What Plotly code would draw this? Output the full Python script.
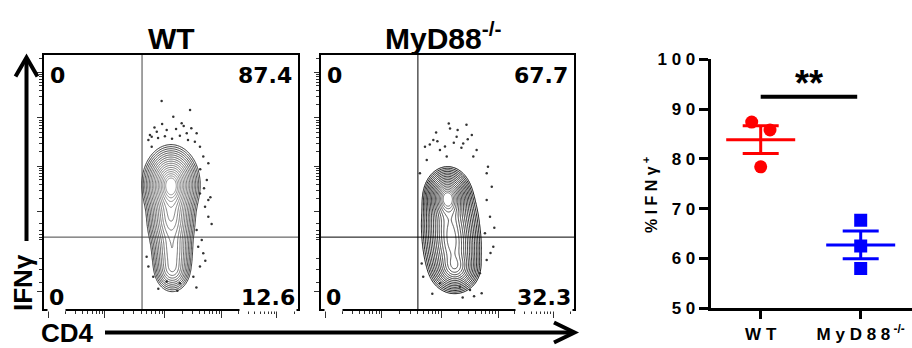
import numpy as np
import plotly.graph_objects as go

W, H = 912, 348

# ---------------- data ----------------
groups = ["WT", "MyD88"]
wt_values = [87.4, 85.8, 78.4]
ko_values = [67.7, 62.5, 58.0]
wt_jitter = [-0.09, 0.093, 0.0]
ko_jitter = [0.0, 0.0, 0.0]
sig_label = "**"
sig_level = 92.5
y_ticks = [50, 60, 70, 80, 90, 100]
y_tick_text = ["5 0", "6 0", "7 0", "8 0", "9 0", "1 0 0"]
x_tick_text = ["W T", "M y D 8 8<sup> -/-</sup>"]

quad_wt = ["0", "87.4", "0", "12.6"]   # UL, UR, LL, LR
quad_ko = ["0", "67.7", "0", "32.3"]
gate_wt = [38.6, 28.3]
gate_ko = [38.3, 28.3]

# density components of the contour plots (arbitrary 0-100 display units)
wt_cx = [50.0, 50.0, 50.5, 50.5]
wt_cy = [49.0, 36.0, 22.0, 15.0]
wt_sx = [3.8, 3.4, 3.0, 2.6]
wt_sy = [5.2, 6.0, 5.5, 3.0]
wt_w = [1.0, 0.5, 0.3, 0.15]

ko_cx = [50.0, 51.0, 52.0, 53.0]
ko_cy = [44.0, 34.0, 24.0, 16.0]
ko_sx = [3.2, 4.0, 4.0, 3.5]
ko_sy = [4.0, 6.0, 5.5, 3.5]
ko_w = [1.0, 0.55, 0.55, 0.5]

# outlier events
wt_dot_x = [46.3, 57.5, 54.2, 50.9, 48.3, 44.4, 42.4, 41.1, 60.1, 61.4, 62.7, 64.7, 64.1, 61.4, 63.4,
            64.7, 60.1, 62.1, 62.7, 61.4, 58.8, 53.5, 48.3, 43.0, 41.1, 40.4, 60.7, 64.7, 42.4, 56.2,
            41.7, 44.9, 47.6, 50.4, 53.5, 56.7, 59.4, 43.5, 46.5, 52.0, 55.0, 58.0, 61.5, 63.0,
            65.5, 66.0, 63.5, 60.0, 45.0, 52.5]
wt_dot_y = [81.9, 78.3, 73.1, 75.7, 70.5, 69.8, 67.8, 66.5, 69.2, 63.9, 60.0, 57.4, 50.8, 45.5, 40.3,
            36.3, 31.1, 27.2, 21.9, 16.7, 12.7, 10.1, 10.8, 12.7, 16.7, 20.6, 24.5, 42.9, 63.9, 69.2,
            68.5, 67.3, 68.0, 67.0, 68.2, 66.5, 65.8, 71.5, 72.8, 70.9, 72.0, 71.2, 55.0, 47.5,
            44.0, 33.5, 19.0, 8.5, 8.0, 7.2]
ko_dot_x = [51.0, 53.6, 59.6, 44.4, 41.1, 47.0, 41.8, 56.2, 60.2, 65.5, 67.5, 65.5, 66.8, 64.8, 68.1,
            65.5, 62.8, 63.5, 58.9, 54.9, 47.0, 40.4, 39.8, 61.5, 49.7, 39.1,
            43.0, 46.0, 49.0, 52.5, 55.5, 58.0, 45.5, 50.5, 54.0, 57.5, 66.0, 68.5, 67.0, 60.5,
            56.0, 44.0]
ko_dot_y = [71.1, 67.8, 68.5, 66.5, 63.9, 62.6, 58.7, 65.2, 60.0, 53.4, 48.1, 42.9, 36.3, 29.8, 24.5,
            19.3, 14.1, 6.2, 7.5, 8.8, 10.1, 12.7, 17.9, 62.6, 60.0, 53.4,
            64.8, 66.0, 64.0, 65.5, 63.5, 66.8, 69.5, 73.0, 70.5, 72.5, 56.0, 32.0, 22.0, 5.0,
            4.5, 6.0]

# axis decades of the flow plots (display units)
y_decades = [38.2, 56.3, 75.2, 93.3]
y_low_major = [6.7]
y_low_minor = [33.5, 31.0, 29.5, 28.3, 27.5, 20.0, 15.4, 10.6]
x_decades = [1.6, 24.0, 47.6, 70.0, 91.7]

# ---------------- helpers ----------------
def pxx(x):
    return x / W


def pxy(y):
    return 1 - y / H


def log_minor(dec):
    out = []
    step = dec[1] - dec[0]
    ext = dec + [dec[-1] + step]
    for a, b in zip(ext[:-1], ext[1:]):
        for k in range(2, 10):
            v = a + (b - a) * np.log10(k)
            if 0 < v < 100:
                out.append(v)
    return out


def density(cx, cy, sx, sy, w):
    g = np.linspace(0, 100, 301)
    X, Y = np.meshgrid(g, g)
    d = np.zeros_like(X)
    for a, b, c, e, f in zip(cx, cy, sx, sy, w):
        d += f * np.exp(-0.5 * (((X - a) / c) ** 2 + ((Y - b) / e) ** 2))
    d = d / d.max()
    z = -np.sqrt(-np.log(np.clip(d, 1e-12, 1)))
    return g, z


def note(x, y, text, font, **kw):
    base = dict(x=pxx(x), y=pxy(y), xref="paper", yref="paper", text=text, showarrow=False,
                xanchor="center", yanchor="middle", font=font)
    base.update(kw)
    fig.add_annotation(**base)


fig = go.Figure()

BOLD = "Liberation Sans"
dom_y = [pxy(309), pxy(55)]
panels = [
    dict(xa="x", ya="y", dom=[pxx(44), pxx(298)], comp=(wt_cx, wt_cy, wt_sx, wt_sy, wt_w),
         dots=(wt_dot_x, wt_dot_y), gate=gate_wt, quad=quad_wt,
         cs=[[0, "#2a2a2a"], [0.5, "#6a6a6a"], [1, "#909090"]], gatecol="#444"),
    dict(xa="x2", ya="y2", dom=[pxx(321), pxx(574)], comp=(ko_cx, ko_cy, ko_sx, ko_sy, ko_w),
         dots=(ko_dot_x, ko_dot_y), gate=gate_ko, quad=quad_ko,
         cs=[[0, "#000000"], [0.6, "#303030"], [1, "#707070"]], gatecol="#000"),
]

for i, p in enumerate(panels):
    g, z = density(*p["comp"])
    fig.add_trace(go.Contour(
        x=g, y=g, z=z, xaxis=p["xa"], yaxis=p["ya"],
        contours=dict(coloring="lines", start=-2.15, end=-0.3, size=0.11),
        line=dict(width=1, smoothing=1.0), colorscale=p["cs"], showscale=False,
        hoverinfo="skip"))
    fig.add_trace(go.Scatter(
        x=p["dots"][0], y=p["dots"][1], xaxis=p["xa"], yaxis=p["ya"], mode="markers",
        marker=dict(size=2.5, color="#333"), hoverinfo="skip"))
    sfx = "" if i == 0 else "2"
    axx = dict(domain=p["dom"], range=[0, 100], showline=True, mirror=True, linecolor="black",
               linewidth=1.5, ticks="outside", tickvals=x_decades, ticklen=7, tickwidth=1,
               tickcolor="#333", showticklabels=False, showgrid=False, zeroline=False,
               automargin=False, anchor=p["ya"],
               minor=dict(tickvals=log_minor(x_decades), ticklen=3.5, ticks="outside",
                          tickwidth=1, tickcolor="#333", showgrid=False))
    axy = dict(domain=dom_y, range=[0, 100], showline=True, mirror=True, linecolor="black",
               linewidth=1.5, ticks="outside", tickvals=y_decades + y_low_major, ticklen=5,
               tickwidth=1, tickcolor="#333", showticklabels=False, showgrid=False,
               zeroline=False, anchor=p["xa"], automargin=False,
               minor=dict(tickvals=log_minor(y_decades) + y_low_minor, ticklen=3,
                          ticks="outside", tickwidth=1, tickcolor="#333", showgrid=False))
    fig.update_layout(**{"xaxis" + sfx: axx, "yaxis" + sfx: axy})
    # gates
    fig.add_shape(type="line", xref=p["xa"], yref=p["ya"], x0=p["gate"][0], x1=p["gate"][0],
                  y0=0, y1=100, line=dict(color=p["gatecol"], width=1))
    fig.add_shape(type="line", xref=p["xa"], yref=p["ya"], x0=0, x1=100, y0=p["gate"][1],
                  y1=p["gate"][1], line=dict(color=p["gatecol"], width=1))
    # quadrant numbers
    l, r = p["dom"][0] * W, p["dom"][1] * W
    qf = dict(family="DejaVu Sans", size=22, color="black", weight="bold")
    note(l + 4, 75.5, p["quad"][0], qf, xanchor="left")
    note(r - 4, 75.5, p["quad"][1], qf, xanchor="right")
    note(l + 3, 312, p["quad"][2], qf, xanchor="left", yanchor="bottom",
         bgcolor="white", borderpad=1)
    note(r - 1, 312, p["quad"][3], qf, xanchor="right", yanchor="bottom",
         bgcolor="white", borderpad=1)

# titles
tf = dict(family=BOLD, size=30, color="black", weight="bold")
note(171, 38, groups[0], tf)
note(443, 36, groups[1] + "<sup>-/-</sup>", tf)

# big axis labels and arrows
af = dict(family=BOLD, size=26, color="black", weight="bold")
note(23, 283, "IFNγ", af, textangle=-90)
note(67, 333, "CD4", af)
arrow = dict(color="black", width=4)
fig.add_shape(type="line", xref="paper", yref="paper", x0=pxx(26.5), x1=pxx(26.5),
              y0=pxy(241), y1=pxy(58), line=arrow)
fig.add_shape(type="path", xref="paper", yref="paper",
              path=f"M {pxx(15.5)} {pxy(76.5)} L {pxx(26.5)} {pxy(57.5)} L {pxx(37.5)} {pxy(76.5)}",
              line=arrow)
fig.add_shape(type="line", xref="paper", yref="paper", x0=pxx(105), x1=pxx(574),
              y0=pxy(332.5), y1=pxy(332.5), line=arrow)
fig.add_shape(type="path", xref="paper", yref="paper",
              path=f"M {pxx(554)} {pxy(322.5)} L {pxx(574.5)} {pxy(332.5)} L {pxx(554)} {pxy(342.5)}",
              line=arrow)

# ---------------- dot plot ----------------
cols = ["#ff0000", "#0000ff"]
syms = ["circle", "square"]
for gi, (vals, jit) in enumerate([(wt_values, wt_jitter), (ko_values, ko_jitter)]):
    xs = [gi + j for j in jit]
    fig.add_trace(go.Scatter(x=xs, y=vals, xaxis="x3", yaxis="y3", mode="markers",
                             marker=dict(size=13, color=cols[gi], symbol=syms[gi]),
                             hoverinfo="skip"))
    m = float(np.mean(vals))
    sem = float(np.std(vals, ddof=1) / np.sqrt(len(vals)))
    fig.add_trace(go.Scatter(x=[gi - 0.345, gi + 0.345], y=[m, m], xaxis="x3", yaxis="y3",
                             mode="lines", line=dict(color=cols[gi], width=3), hoverinfo="skip"))
    fig.add_trace(go.Scatter(x=[gi], y=[m], xaxis="x3", yaxis="y3", mode="markers",
                             marker=dict(size=1, color=cols[gi], opacity=0),
                             error_y=dict(type="data", array=[sem], visible=True, thickness=3,
                                          width=18, color=cols[gi]), hoverinfo="skip"))

fig.add_shape(type="line", xref="x3", yref="y3", x0=0, x1=0.965, y0=sig_level, y1=sig_level,
              line=dict(color="black", width=4))
fig.add_annotation(x=0.48, y=95.2, xref="x3", yref="y3", text=sig_label, showarrow=False,
                   xanchor="center", yanchor="middle",
                   font=dict(family=BOLD, size=36, color="black", weight="bold"))

fig.update_layout(
    xaxis3=dict(domain=[pxx(710.7), 1.0], range=[-0.5, 1.513], anchor="y3", tickvals=[0, 1],
                ticktext=x_tick_text, showline=True, linecolor="black", linewidth=3,
                ticks="outside", ticklen=8, tickwidth=3, tickcolor="black", showgrid=False,
                zeroline=False, automargin=False,
                tickfont=dict(family=BOLD, size=17, color="black", weight="bold")),
    yaxis3=dict(domain=[pxy(308.3), pxy(59.3)], range=[50, 100], anchor="x3", tickvals=y_ticks,
                ticktext=y_tick_text, showline=True, linecolor="black", linewidth=3,
                ticks="outside", ticklen=9, tickwidth=3, tickcolor="black", showgrid=False,
                zeroline=False, automargin=False,
                tickfont=dict(family=BOLD, size=17, color="black", weight="bold")),
)
note(650, 195, "% I F N γ<sup> +</sup>",
     dict(family=BOLD, size=16, color="black", weight="bold"), textangle=-90)

fig.update_layout(width=W, height=H, margin=dict(l=0, r=0, t=0, b=0), showlegend=False,
                  paper_bgcolor="white", plot_bgcolor="white")
fig.write_html("out.html", config={"displayModeBar": False},
               post_script="document.body.style.margin='0px';")
